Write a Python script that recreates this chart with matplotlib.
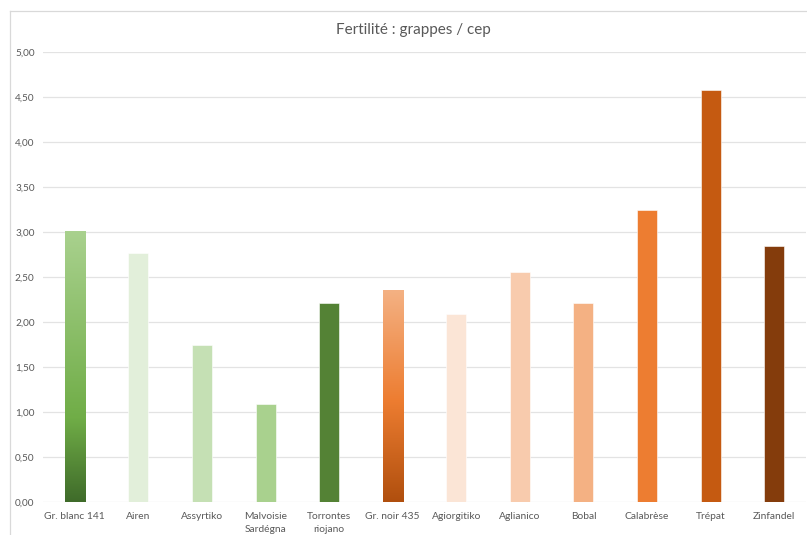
import numpy as np
import matplotlib
matplotlib.use("Agg")
import matplotlib.pyplot as plt
from matplotlib.colors import LinearSegmentedColormap

categories = ["Gr. blanc 141", "Airen", "Assyrtiko", "Malvoisie\nSardégna",
              "Torrontes\nriojano", "Gr. noir 435", "Agiorgitiko", "Aglianico",
              "Bobal", "Calabrèse", "Trépat", "Zinfandel"]
values = [3.01, 2.77, 1.74, 1.085, 2.21, 2.35, 2.085, 2.56, 2.21, 3.25, 4.58, 2.84]
colors = ["#A9D18E", "#E2EFDA", "#C5E0B4", "#A9D18E", "#548235", "#F4B183",
          "#FBE5D6", "#F8CBAD", "#F4B183", "#ED7D31", "#C55A11", "#843C0C"]
# gradient fills (bottom -> top) for the two reference varieties
gradients = {
    0: [(0.0, "#3F6B2A"), (0.31, "#70AD47"), (1.0, "#A9D18E")],
    5: [(0.0, "#B04F0E"), (0.48, "#ED7D31"), (1.0, "#F4B183")],
}
yticks = [0, 0.5, 1, 1.5, 2, 2.5, 3, 3.5, 4, 4.5, 5]

plt.rcParams["font.family"] = ["Lato", "DejaVu Sans"]
text_color = "#595959"

fig = plt.figure(figsize=(8.07, 5.35), dpi=100)
W, H = 807, 535
ax = fig.add_axes([43 / W, (H - 502) / H, (806 - 43) / W, 450 / H])

x = np.arange(len(categories))
bars = ax.bar(x, values, width=0.315, color=colors, edgecolor="#FFFFFF",
              linewidth=0.4, zorder=3)

for i, stops in gradients.items():
    b = bars[i]
    cmap = LinearSegmentedColormap.from_list(f"g{i}", stops)
    grad = np.linspace(0, 1, 256).reshape(-1, 1)
    x0, w, h = b.get_x(), b.get_width(), b.get_height()
    ax.imshow(grad, cmap=cmap, origin="lower", aspect="auto",
              extent=(x0, x0 + w, 0, h), zorder=3.5)

ax.set_xlim(-0.5, len(categories) - 0.5)
ax.set_ylim(0, 5)
ax.set_yticks(yticks)
ax.set_yticklabels([f"{v:.2f}".replace(".", ",") for v in yticks])
ax.set_xticks(x)
ax.set_xticklabels(categories, fontsize=7.4, color=text_color, linespacing=1.55)
ax.tick_params(axis="y", labelsize=7.2, labelcolor=text_color, length=0, pad=6)
ax.tick_params(axis="x", length=0, pad=7.5)
ax.grid(axis="y", color="#E3E3E3", linewidth=0.9, zorder=0)
for s in ax.spines.values():
    s.set_visible(False)
ax.set_axisbelow(True)

fig.text(413 / W, 1 - 30 / H, "Fertilité : grappes / cep", ha="center",
         va="center", fontsize=11, color=text_color)

# chart area frame (top and left edges)
fig.add_artist(plt.Line2D([10 / W, 10 / W], [0, 1 - 11 / H], color="#D9D9D9",
                          linewidth=0.9, transform=fig.transFigure))
fig.add_artist(plt.Line2D([10 / W, 1], [1 - 11 / H, 1 - 11 / H], color="#D9D9D9",
                          linewidth=0.9, transform=fig.transFigure))

fig.savefig("out.png", dpi=100, facecolor="white")
